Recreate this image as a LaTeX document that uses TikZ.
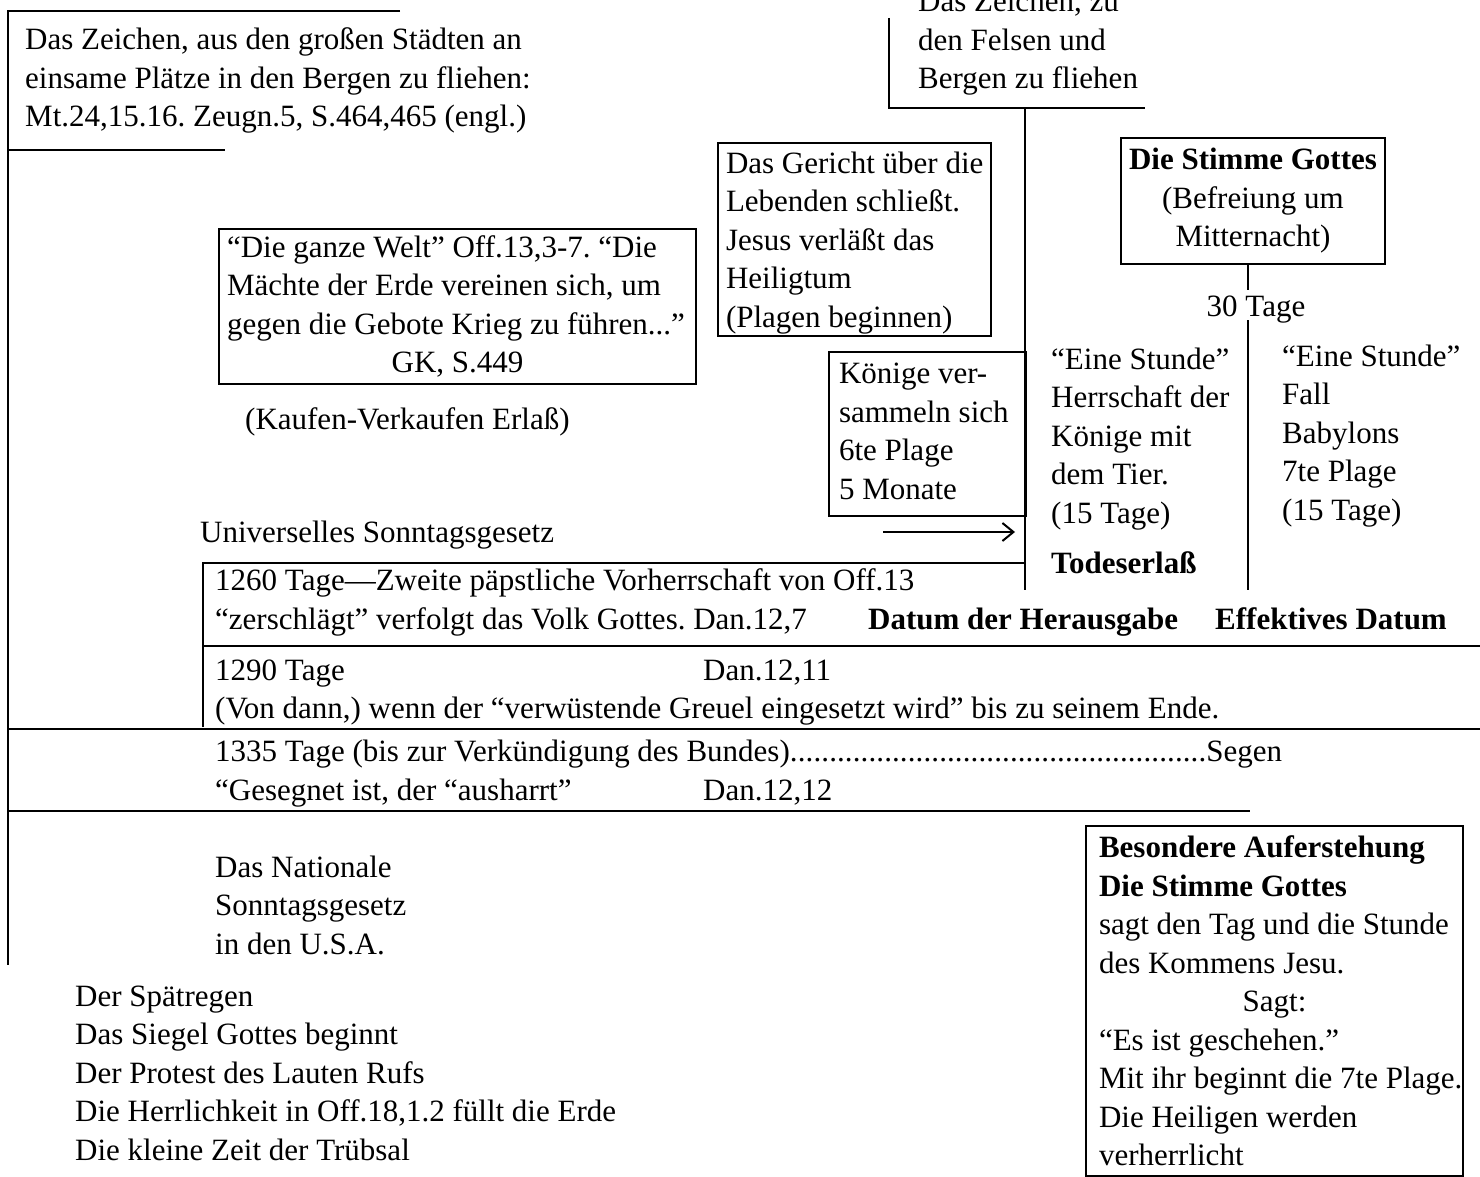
\documentclass[tikz,border=0pt]{standalone}
\usepackage{fontspec}
\setmainfont{Liberation Serif}
\usepackage{tikz}
\usetikzlibrary{arrows.meta}
\usetikzlibrary{positioning}
\frenchspacing
\tikzset{
  txt/.style = {inner sep=0pt, align=left,
    font=\fontsize{31}{38.5}\selectfont},
  tbox/.style = {txt, draw=black, line width=2pt, inner xsep=8pt,
    anchor=north west},
  tline/.style = {line width=2.2pt}
}

\begin{document}
\begin{tikzpicture}[x=1pt,y=-1pt]
\useasboundingbox (0,0) rectangle (1480,1177);

% linke Klammer oben
\draw[tline] (400,11) -- (8,11) -- (8,965);
\draw[tline] (8,150) -- (225,150);
\node[txt, anchor=base west] (zeichen) at (25,127) {Das Zeichen, aus den großen Städten an\\einsame Plätze in den Bergen zu fliehen:\\Mt.24,15.16. Zeugn.5, S.464,465 (engl.)};

% Felsen und Bergen
\node[txt, anchor=base west] (felsen) at (918,89) {Das Zeichen, zu\\den Felsen und\\Bergen zu fliehen};
\draw[tline] (889,18) -- (889,108) -- (1145,108);
\draw[tline] (1025,108) -- (1025,590);

\node[tbox, minimum width=477pt, minimum height=155pt] (welt) at (218,228) {“Die ganze Welt” Off.13,3-7. “Die\\Mächte der Erde vereinen sich, um\\gegen die Gebote Krieg zu führen...”\\\makebox[461pt]{GK, S.449}};
\node[txt, anchor=base west] (kaufen) at (245,429) {(Kaufen-Verkaufen Erlaß)};

\node[tbox, minimum width=273pt, minimum height=193pt] (gericht) at (717,142) {\rule{0pt}{28pt}Das Gericht über die\\Lebenden schließt.\\Jesus verläßt das\\Heiligtum\\(Plagen beginnen)};
\node[tbox, inner xsep=10pt, minimum width=197pt, minimum height=164pt] (koenige) at (828,351) {\makebox[177pt][l]{Könige ver-}\\sammeln sich\\6te Plage\\5 Monate\rule[-6pt]{0pt}{6pt}};

% Pfeil zum Todeserlass
\coordinate (pfeilA) at (883,532);
\coordinate (pfeilB) at (1015,532);
\draw[line width=2pt, -{Straight Barb[length=11pt,width=18pt]}] (pfeilA) -- (pfeilB);
\node[txt, anchor=base west] (universell) at (200,542) {Universelles Sonntagsgesetz};

% Stimme Gottes, 30 Tage
\node[tbox, align=center, minimum width=263pt, minimum height=126pt] (stimme) at (1120,137) {\textbf{Die Stimme Gottes}\\(Befreiung um\\Mitternacht)};
\node[txt, anchor=base] (tage30) at (1256,316) {30 Tage};
\coordinate (s1) at (1248,290);
\coordinate (s2) at (1248,320);
\coordinate (s3) at (1248,590);
\draw[tline] (stimme.south -| s1) -- (s1);
\draw[tline] (s2) -- (s3);

\node[txt, anchor=base west] (stundeA) at (1051,523) {“Eine Stunde”\\Herrschaft der\\Könige mit\\dem Tier.\\(15 Tage)};
\node[txt, anchor=base west, font=\fontsize{31}{38.5}\selectfont\bfseries] (todes) at (1051,573) {Todeserlaß};
\node[txt, anchor=base west] (stundeB) at (1282,520) {“Eine Stunde”\\Fall\\Babylons\\7te Plage\\(15 Tage)};

% Zeitlinien
\draw[tline] (203,727) -- (203,563) -- (1025,563);
\draw[tline] (203,646) -- (1480,646);
\draw[tline] (8,729) -- (1480,729);
\draw[tline] (8,811) -- (1250,811);

\node[txt, anchor=base west] (t1260) at (215,629) {1260 Tage—Zweite päpstliche Vorherrschaft von Off.13\\“zerschlägt” verfolgt das Volk Gottes. Dan.12,7};
\node[txt, anchor=base west, font=\fontsize{31}{38.5}\selectfont\bfseries] (datum) at (868,629) {Datum der Herausgabe};
\node[txt, anchor=base west, font=\fontsize{31}{38.5}\selectfont\bfseries] (effektiv) at (1215,629) {Effektives Datum};

\node[txt, anchor=base west] (t1290) at (215,680) {1290 Tage};
\node[txt, anchor=base west] (dan11) at (703,680) {Dan.12,11};
\node[txt, anchor=base west] (vondann) at (215,718) {(Von dann,) wenn der “verwüstende Greuel eingesetzt wird” bis zu seinem Ende.};

\node[txt, anchor=base west] (t1335) at (215,761) {\hbox to 1067pt{1335 Tage (bis zur Verkündigung des Bundes)\xleaders\hbox{.}\hfill Segen}};
\node[txt, anchor=base west] (gesegnet) at (215,800) {“Gesegnet ist, der “ausharrt”};
\node[txt, anchor=base west] (dan12) at (703,800) {Dan.12,12};

% unten
\node[txt, anchor=base west] (national) at (215,954) {Das Nationale\\Sonntagsgesetz\\in den U.S.A.};
\node[txt, anchor=base west] (spaet) at (75,1160) {Der Spätregen\\Das Siegel Gottes beginnt\\Der Protest des Lauten Rufs\\Die Herrlichkeit in Off.18,1.2 füllt die Erde\\Die kleine Zeit der Trübsal};

\node[tbox, inner xsep=13pt, minimum width=377pt, minimum height=350pt] (aufer) at (1085,825) {\textbf{Besondere Auferstehung}\\\textbf{Die Stimme Gottes}\\sagt den Tag und die Stunde\\des Kommens Jesu.\\\makebox[351pt]{Sagt:}\\“Es ist geschehen.”\\\makebox[351pt][l]{Mit ihr beginnt die 7te Plage.}\\Die Heiligen werden\\verherrlicht};
\end{tikzpicture}
\end{document}
